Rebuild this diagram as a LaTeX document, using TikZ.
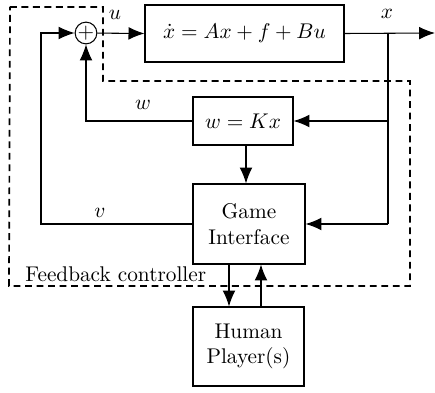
\documentclass[tikz,border=0pt]{standalone}
\usetikzlibrary{arrows.meta}
\newcommand{\pxu}{0.47pt}
\begin{document}
\begin{tikzpicture}[x=0.47pt,y=-0.47pt,
  blk/.style={draw, line width=0.5pt, inner sep=0pt, align=center},
  conn/.style={draw, line width=0.5pt},
  arr/.style={conn, -{Latex[length=7.5pt,width=6pt]}},
  lbl/.style={inner sep=0pt},
  ctrl/.style={draw, line width=0.8pt, dash pattern=on 3.2pt off 2.2pt}]
\useasboundingbox (0,0) rectangle (435,393);
% nodes
\node[blk, minimum width=199*\pxu, minimum height=57*\pxu] (plant) at (244.5,33.5) {$\dot{x} = Ax + f + Bu$};
\node[draw, circle, line width=0.5pt, minimum size=17*\pxu, inner sep=0pt] (sum) at (86,33) {$+$};
\node[blk, minimum width=100*\pxu, minimum height=48*\pxu] (K) at (243,121) {$w = Kx$};
\node[blk, minimum width=112*\pxu, minimum height=80*\pxu] (GI) at (249,224) {Game\\Interface};
\node[blk, minimum width=111*\pxu, minimum height=79*\pxu] (HP) at (248.5,346.5) {Human\\Player(s)};
\coordinate (out) at (435,33);
\coordinate (br) at (388,33);
\coordinate (brK) at (388,121);
\coordinate (brG) at (388,224);
\coordinate (wc) at (86,121);
\coordinate (vc1) at (41,224);
\coordinate (vc2) at (41,33);
% connectors
\draw[arr] (sum) -- (plant.west);
\draw[arr] (plant.east) -- (out);
\draw[conn] (br) -- (brG);
\draw[arr] (brK) -- (K.east);
\draw[arr] (brG) -- (GI.east);
\draw[arr] (K.west) -- (wc) -- (sum.south);
\draw[arr] (K.south -| 246,0) -- (GI.north -| 246,0);
\draw[arr] (GI.west) -- (vc1) -- (vc2) -- (sum.west);
\draw[arr] (GI.south -| 229,0) -- (HP.north -| 229,0);
\draw[arr] (HP.north -| 261,0) -- (GI.south -| 261,0);
% labels
\node[lbl] (lu) at (115,15) {$u$};
\node[lbl] (lx) at (387,14) {$x$};
\node[lbl] (lw) at (143,105) {$w$};
\node[lbl] (lv) at (100,213) {$v$};
% controller boundary
\draw[ctrl] (10,7) -- (103,7) -- (103,81) -- (410,81) -- (410,286) -- (9,286) -- cycle;
\node[lbl, anchor=west] (fc) at (25,274) {Feedback controller};
\end{tikzpicture}
\end{document}
